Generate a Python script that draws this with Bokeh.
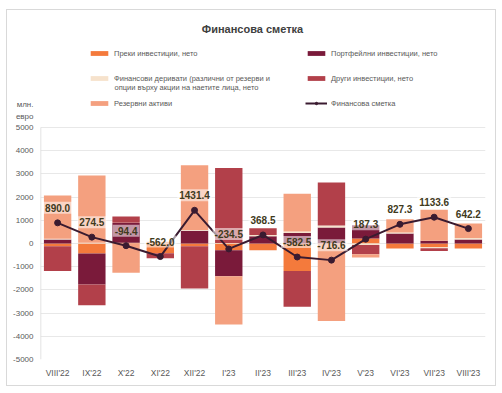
import numpy as np
from bokeh.plotting import figure
from bokeh.models import (FactorRange, Range1d, Legend, LegendItem, Label,
                          FixedTicker)
from bokeh.embed import file_html
from bokeh.resources import INLINE

months = ["VIII'22", "IX'22", "X'22", "XI'22", "XII'22", "I'23", "II'23",
          "III'23", "IV'23", "V'23", "VI'23", "VII'23", "VIII'23"]
direct = [-120, -430, 30, -420, -115, -290, -290, -1190, 0, 215, -215, -150, -215]
portfolio = [170, -1340, 850, 0, 545, -1120, 315, 450, 690, 570, 430, 115, 170]
derivatives = [30, 35, 15, 8, 40, 20, 50, 67, 85, -70, 42, -60, 67]
other = [-1060, -890, 270, -220, -1825, 3235, 290, -1540, 1850, -390, 0, -110, 0]
reserves = [1870, 2900, -1260, 70, 2785, -2080, 0, 1630, -3340, -140, 570, 1340, 620]
total = [890.0, 274.5, -94.4, -562.0, 1431.4, -234.5, 368.5, -582.5, -716.6,
         187.3, 827.3, 1133.6, 642.2]
y_ticks = [-5000, -4000, -3000, -2000, -1000, 0, 1000, 2000, 3000, 4000, 5000]
unit_lines = ["млн.", "евро"]

names = ["Преки инвестиции, нето", "Портфейлни инвестиции, нето",
         "Финансови деривати (различни от резерви и",
         "Други инвестиции, нето", "Резервни активи"]
deriv_line2 = "опции върху акции на наетите лица, нето"
line_name = "Финансова сметка"
title_text = "Финансова сметка"
colors = ["#F47A3C", "#7A1A3A", "#F6E2CC", "#B2404A", "#F4A07F"]
line_color = "#3A1B30"
FONT = "Liberation Sans"
GREY = "#595959"

# layout (page pixels)
FRAME_H = 347          # frame from page y 12 to 359
PX_PER_10K = 232       # pixels for 10000 units
y_end = y_ticks[0] + 10000 * FRAME_H / PX_PER_10K

def page_to_val(py):
    return y_ticks[0] + (359 - py) * 10000 / PX_PER_10K

p = figure(x_range=FactorRange(factors=months, range_padding=0),
           y_range=Range1d(y_ticks[0], y_end),
           width=490, height=377, output_backend="svg", toolbar_location=None,
           min_border_left=33, min_border_right=12, min_border_top=2,
           min_border_bottom=28)
p.styles = {"border": "1px solid #D9D9D9", "margin-left": "6px",
            "margin-top": "9px"}
p.outline_line_color = None
p.xgrid.grid_line_color = None
p.ygrid.ticker = FixedTicker(ticks=y_ticks)
p.ygrid.grid_line_color = "#E8E8E8"
p.ygrid.grid_line_width = 1

unit_pos = [page_to_val(104), page_to_val(116)]
p.yaxis.ticker = FixedTicker(ticks=y_ticks + unit_pos)
overrides = {t: str(t) for t in y_ticks}
overrides.update({unit_pos[0]: unit_lines[0], unit_pos[1]: unit_lines[1]})
p.yaxis.major_label_overrides = overrides
for ax in (p.xaxis, p.yaxis):
    ax.major_tick_line_color = None
    ax.minor_tick_line_color = None
    ax.major_tick_out = 0
    ax.major_tick_in = 0
    ax.minor_tick_out = 0
    ax.major_label_text_font = FONT
    ax.major_label_text_color = GREY
p.yaxis.major_label_text_font_size = "8px"
p.xaxis.major_label_text_font_size = "8.5px"
p.yaxis.axis_line_color = None
p.xaxis.axis_line_color = None
p.yaxis.major_label_standoff = 7
p.xaxis.major_label_standoff = 8

# y axis line only over the value range
p.segment(x0=[(months[0], -0.5)], x1=[(months[0], -0.5)], y0=[y_ticks[0]],
          y1=[y_ticks[-1]], line_color="#D9D9D9", line_width=1.5)

pos = np.zeros(len(months))
neg = np.zeros(len(months))
bar_renderers = []
for vals, col in zip([direct, portfolio, derivatives, other, reserves], colors):
    v = np.array(vals, dtype=float)
    bottom = np.where(v >= 0, pos, neg)
    top = bottom + v
    pos = np.where(v >= 0, top, pos)
    neg = np.where(v < 0, top, neg)
    r = p.vbar(x=months, bottom=bottom, top=top, width=0.8, fill_color=col,
               line_color=None)
    bar_renderers.append(r)

lr = p.line(months, total, line_color=line_color, line_width=2)
sr = p.scatter(months, total, size=6, fill_color=line_color, line_color=line_color)

for i, t in enumerate(total):
    p.add_layout(Label(x=i + 0.5, y=t, y_offset=15, text=f"{t:.1f}",
                       text_align="center", text_baseline="middle",
                       text_font=FONT, text_font_size="10px",
                       text_font_style="bold", text_color="#3F3A1C",
                       background_fill_color="white", background_fill_alpha=0.55,
                       padding=2))

# legends (screen units relative to frame bottom-left: page x 40, page y 359)
def add_legend(label, renderers, page_x, page_yc):
    lg = Legend(items=[LegendItem(label=label, renderers=renderers)],
                location=(page_x - 40, 359 - (page_yc + 5)),
                orientation="vertical", glyph_width=22, glyph_height=6,
                label_height=10, label_standoff=4, padding=0, margin=0,
                spacing=0, border_line_color=None, background_fill_alpha=0,
                label_text_font=FONT, label_text_font_size="7.5px",
                label_text_color=GREY)
    p.add_layout(lg, "center")

add_legend(names[0], [bar_renderers[0]], 88, 53)
add_legend(names[2], [bar_renderers[2]], 88, 78)
add_legend(names[4], [bar_renderers[4]], 88, 103)
add_legend(names[1], [bar_renderers[1]], 305, 53)
add_legend(names[3], [bar_renderers[3]], 305, 78)
add_legend(line_name, [lr, sr], 305, 103)

p.add_layout(Label(x=74, y=359 - 87, x_units="screen", y_units="screen",
                   text=deriv_line2, text_baseline="middle", text_align="left",
                   text_font=FONT, text_font_size="7.5px", text_color=GREY))
p.add_layout(Label(x=252 - 40, y=359 - 28, x_units="screen", y_units="screen",
                   text=title_text, text_baseline="middle", text_align="center",
                   text_font=FONT, text_font_size="11px", text_font_style="bold",
                   text_color="#404040"))

open("out.html", "w").write(file_html(p, INLINE))
